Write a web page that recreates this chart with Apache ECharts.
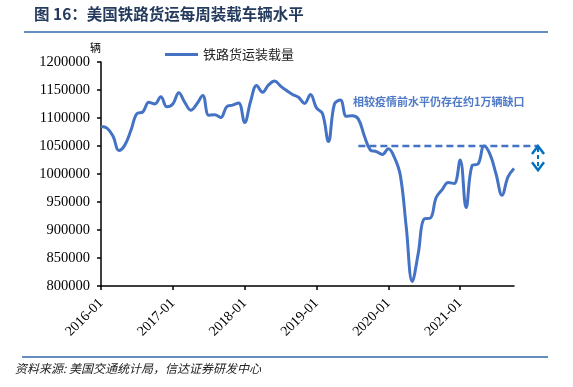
<!DOCTYPE html>
<html>
<head>
<meta charset="utf-8">
<script src="https://cdn.jsdelivr.net/npm/echarts@6/dist/echarts.min.js"></script>
<style>
html,body{margin:0;padding:0;background:#fff;}
#c{width:573px;height:387px;}
</style>
</head>
<body>
<div id="c"></div>
<script>
// ---- data ----
const startYear = 2016;
const months = [];
for (let i = 0; i < 70; i++) {
  const y = startYear + Math.floor(i / 12);
  const m = (i % 12) + 1;
  months.push(y + '-' + (m < 10 ? '0' + m : m));
}
const seriesName = '铁路货运装载量';
const loads = [
  1085000, 1082000, 1068000, 1042000, 1052000, 1078000, 1108000, 1111000, 1128000, 1125000, 1138000, 1120000,
  1125000, 1145000, 1128000, 1114000, 1125000, 1140000, 1105000, 1106000, 1101000, 1120000, 1123000, 1127000,
  1092000, 1130000, 1158000, 1146000, 1159000, 1166000, 1157000, 1149000, 1142000, 1137000, 1126000, 1142000,
  1118000, 1108000, 1058000, 1125000, 1132000, 1103000, 1104000, 1098000, 1068000, 1043000, 1040000, 1035000,
  1045000, 1030000, 998000, 905000, 808000, 858000, 920000, 921000, 958000, 972000, 985000, 983000,
  1025000, 940000, 1015000, 1018000, 1050000, 1035000, 1000000, 962000, 995000, 1010000
];
const yMin = 800000, yMax = 1200000, yStep = 50000;
const preCovidLevel = 1050000;
const gapStartMonth = '2019-08';
const gapLow = 1005000;
const titleText = '图 16：美国铁路货运每周装载车辆水平';
const unitText = '辆';
const noteText = '相较疫情前水平仍存在约1万辆缺口';
const sourceText = '资料来源: 美国交通统计局，信达证券研发中心';

const chart = echarts.init(document.getElementById('c'), null, {renderer: 'canvas'});
const serif = '"Liberation Serif", "Times New Roman", serif';
const cjk = '"Noto Sans CJK SC", sans-serif';

const option = {
  animation: false,
  backgroundColor: '#fff',
  grid: {left: 101, top: 62, right: 59, bottom: 101, containLabel: false},
  legend: {
    data: [seriesName],
    left: 160, top: 43,
    icon: 'rect', itemWidth: 33, itemHeight: 3, itemGap: 5,
    textStyle: {fontFamily: cjk, fontSize: 13, color: '#222'}
  },
  xAxis: {
    type: 'category', data: months, boundaryGap: false,
    axisLine: {lineStyle: {color: '#000', width: 1.5}},
    axisTick: {interval: 11, length: 4, lineStyle: {color: '#000', width: 1.5}},
    axisLabel: {interval: 11, rotate: 45, margin: 15, fontFamily: serif, fontSize: 14, color: '#000'}
  },
  yAxis: {
    type: 'value', min: yMin, max: yMax, interval: yStep,
    name: unitText, nameLocation: 'end', nameGap: 9,
    nameTextStyle: {fontFamily: cjk, fontSize: 11, color: '#000', align: 'right', padding: [0, 0, 0, 0]},
    splitLine: {show: false},
    axisLine: {show: true, lineStyle: {color: '#000', width: 1.5}},
    axisTick: {show: true, length: 4, lineStyle: {color: '#000', width: 1.5}},
    axisLabel: {margin: 11, fontFamily: serif, fontSize: 14.5, color: '#000', formatter: v => String(v)}
  },
  series: [{
    name: seriesName, type: 'line', data: loads,
    smooth: 0.4, symbol: 'none',
    lineStyle: {color: '#4472C4', width: 3},
    itemStyle: {color: '#4472C4'}
  }]
};
chart.setOption(option);

const p0 = chart.convertToPixel({gridIndex: 0}, [gapStartMonth, preCovidLevel]);
const pEnd = chart.convertToPixel({gridIndex: 0}, [months[months.length - 1], preCovidLevel]);
const pLow = chart.convertToPixel({gridIndex: 0}, [months[months.length - 1], gapLow]);
const ax = pEnd[0] + 24;
const yTop = p0[1] - 2, yBot = pLow[1];

chart.setOption({
  graphic: [
    {type: 'text', left: 34, top: 6, style: {text: titleText, fontFamily: cjk, fontSize: 15.5, fontWeight: 'bold', fill: '#253b5e'}},
    {type: 'line', shape: {x1: 24, y1: 32, x2: 548, y2: 32}, style: {stroke: '#2f69a8', lineWidth: 1.5}},
    {type: 'line', shape: {x1: 22, y1: 357, x2: 548, y2: 357}, style: {stroke: '#2f69a8', lineWidth: 1.5}},
    {type: 'text', left: 15, top: 362, style: {text: sourceText, fontFamily: cjk, fontSize: 12, fontStyle: 'italic', fill: '#222'}},
    {type: 'text', left: 353, top: 96, style: {text: noteText, fontFamily: cjk, fontSize: 11, fontWeight: 'bold', fill: '#4f7ac7'}},
    {type: 'line', shape: {x1: p0[0], y1: p0[1], x2: ax, y2: p0[1]}, style: {stroke: '#4472C4', lineWidth: 2.5, lineDash: [7, 4]}},
    {type: 'polyline', shape: {points: [[ax - 6, yTop + 10], [ax, yTop + 2], [ax + 6, yTop + 10]]}, style: {stroke: '#0070C0', lineWidth: 2.5, fill: null}},
    {type: 'polyline', shape: {points: [[ax - 6, yBot - 9], [ax, yBot - 1], [ax + 6, yBot - 9]]}, style: {stroke: '#0070C0', lineWidth: 2.5, fill: null}},
    {type: 'line', shape: {x1: ax, y1: yTop + 4, x2: ax, y2: yBot - 3}, style: {stroke: '#0070C0', lineWidth: 2, lineDash: [4, 3]}}
  ]
});
</script>
</body>
</html>
